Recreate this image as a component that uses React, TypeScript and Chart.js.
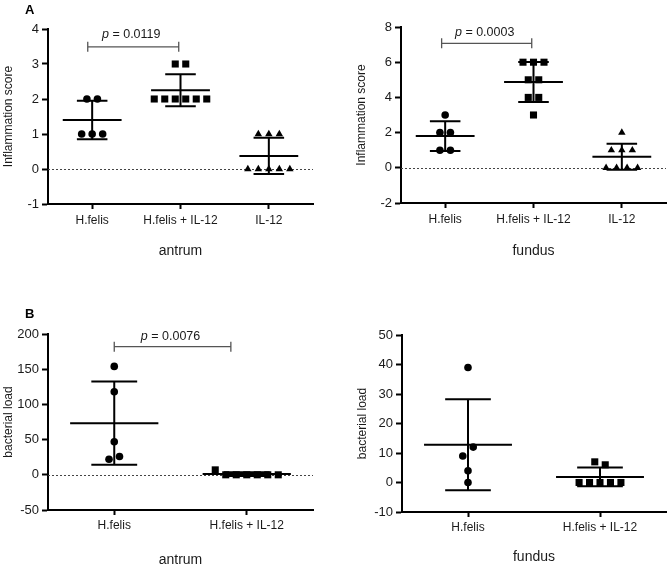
import React, { useEffect, useRef } from "react";
import { Chart, registerables } from "chart.js";
Chart.register(...registerables);

const FONT = "'Liberation Sans', Arial, Helvetica, sans-serif";
const TEXT = "#1a1a1a";

// ---------- Data ----------
const catsA = ["H.felis", "H.felis + IL-12", "IL-12"];
const catsB = ["H.felis", "H.felis + IL-12"];

// A – antrum, inflammation score
const antrumA_HF = [2, 2, 1, 1, 1];
const antrumA_HFIL = [3, 3, 2, 2, 2, 2, 2, 2];
const antrumA_IL = [1, 1, 1, 0, 0, 0, 0, 0];
const antrumA_mean = [1.4, 2.25, 0.375];
const antrumA_sd = [0.55, 0.46, 0.52];
const antrumA_ticks = [-1, 0, 1, 2, 3, 4];

// A – fundus, inflammation score
const fundusA_HF = [3, 2, 2, 1, 1];
const fundusA_HFIL = [6, 6, 6, 5, 5, 4, 4, 3];
const fundusA_IL = [2, 1, 1, 1, 0, 0, 0, 0];
const fundusA_mean = [1.8, 4.875, 0.625];
const fundusA_sd = [0.84, 1.13, 0.74];
const fundusA_ticks = [-2, 0, 2, 4, 6, 8];

// B – antrum, bacterial load
const antrumB_HF = [154, 118, 47, 22, 26];
const antrumB_HFIL = [7, 0, 0, 0, 0, 0, 0];
const antrumB_mean = [73.4, 1.0];
const antrumB_sd = [59.3, 2.6];
const antrumB_ticks = [-50, 0, 50, 100, 150, 200];

// B – fundus, bacterial load
const fundusB_HF = [39, 9, 12, 4, 0];
const fundusB_HFIL = [7, 6, 0, 0, 0, 0, 0];
const fundusB_mean = [12.8, 1.9];
const fundusB_sd = [15.4, 3.2];
const fundusB_ticks = [-10, 0, 10, 20, 30, 40, 50];

// ---------- Panel layout ----------
type Group = { values: number[]; style: "circle" | "rect" | "triangle" };
type Panel = {
  id: string;
  cats: string[];
  groups: Group[];
  mean: number[];
  sd: number[];
  ticks: number[];
  yTitle: string;
  xTitle: string;
  zeroLine: boolean;
  p?: { label: string; from: number; to: number; y: number; textY: number };
  letter?: { text: string; x: number; y: number };
  box: { x: number; y: number; w: number; h: number };
  area: { l: number; t: number; r: number; b: number };
  labelPad: number;
  titlePadBottom: number;
};

const panels: Panel[] = [
  {
    id: "a1",
    cats: catsA,
    groups: [
      { values: antrumA_HF, style: "circle" },
      { values: antrumA_HFIL, style: "rect" },
      { values: antrumA_IL, style: "triangle" },
    ],
    mean: antrumA_mean,
    sd: antrumA_sd,
    ticks: antrumA_ticks,
    yTitle: "Inflammation score",
    xTitle: "antrum",
    zeroLine: true,
    p: { label: " = 0.0119", from: -0.05, to: 0.98, y: 3.49, textY: 3.85 },
    letter: { text: "A", x: 25, y: 14 },
    box: { x: 0, y: 0, w: 335, h: 285 },
    area: { l: 48, t: 29, r: 313, b: 204 },
    labelPad: 4,
    titlePadBottom: 25,
  },
  {
    id: "a2",
    cats: catsA,
    groups: [
      { values: fundusA_HF, style: "circle" },
      { values: fundusA_HFIL, style: "rect" },
      { values: fundusA_IL, style: "triangle" },
    ],
    mean: fundusA_mean,
    sd: fundusA_sd,
    ticks: fundusA_ticks,
    yTitle: "Inflammation score",
    xTitle: "fundus",
    zeroLine: true,
    p: { label: " = 0.0003", from: -0.04, to: 0.98, y: 7.07, textY: 7.7 },
    box: { x: 335, y: 0, w: 336, h: 285 },
    area: { l: 401, t: 27, r: 666, b: 203 },
    labelPad: 4,
    titlePadBottom: 25,
  },
  {
    id: "b1",
    cats: catsB,
    groups: [
      { values: antrumB_HF, style: "circle" },
      { values: antrumB_HFIL, style: "rect" },
    ],
    mean: antrumB_mean,
    sd: antrumB_sd,
    ticks: antrumB_ticks,
    yTitle: "bacterial load",
    xTitle: "antrum",
    zeroLine: true,
    p: { label: " = 0.0076", from: 0.0, to: 0.88, y: 182, textY: 197 },
    letter: { text: "B", x: 25, y: 33 },
    box: { x: 0, y: 285, w: 335, h: 284 },
    area: { l: 48, t: 334, r: 313, b: 510 },
    labelPad: 3,
    titlePadBottom: 0,
  },
  {
    id: "b2",
    cats: catsB,
    groups: [
      { values: fundusB_HF, style: "circle" },
      { values: fundusB_HFIL, style: "rect" },
    ],
    mean: fundusB_mean,
    sd: fundusB_sd,
    ticks: fundusB_ticks,
    yTitle: "bacterial load",
    xTitle: "fundus",
    zeroLine: false,
    box: { x: 335, y: 285, w: 336, h: 284 },
    area: { l: 402, t: 335, r: 667, b: 512 },
    labelPad: 3,
    titlePadBottom: 3,
  },
];

const Y_AXIS_W = 48;
const SPREAD_PX = 10.5; // horizontal spacing of overlapping symbols
const OVERLAP_PX = 10; // vertical distance under which symbols overlap
const RADIUS = { circle: 3.8, rect: 5.0, triangle: 4.3 };

// spread overlapping points side by side (GraphPad-style scatter)
function spreadOffsets(values: number[], pxPerUnit: number, bandPx: number): number[] {
  const order = values.map((_, i) => i).sort((a, b) => values[b] - values[a]);
  const clusters: number[][] = [];
  let cur: number[] = [];
  for (const i of order) {
    if (cur.length && Math.abs(values[cur[cur.length - 1]] - values[i]) * pxPerUnit >= OVERLAP_PX) {
      clusters.push(cur);
      cur = [];
    }
    cur.push(i);
  }
  if (cur.length) clusters.push(cur);
  const offs = new Array(values.length).fill(0);
  for (const c of clusters) {
    const sorted = [...c].sort((a, b) => a - b);
    sorted.forEach((idx, k) => {
      offs[idx] = ((k - (sorted.length - 1) / 2) * SPREAD_PX) / bandPx;
    });
  }
  return offs;
}

function buildConfig(p: Panel): any {
  const n = p.cats.length;
  const yMin = p.ticks[0];
  const yMax = p.ticks[p.ticks.length - 1];
  const plotW = p.area.r - p.area.l;
  const plotH = p.area.b - p.area.t;
  const bandPx = plotW / n;
  const pxPerUnit = plotH / (yMax - yMin);

  const datasets = p.groups.map((g, gi) => {
    const offs = spreadOffsets(g.values, pxPerUnit, bandPx);
    return {
      data: g.values.map((v, i) => ({ x: gi + offs[i], y: v })),
      pointStyle: g.style,
      pointRadius: RADIUS[g.style],
      pointBackgroundColor: "#000",
      pointBorderColor: "#000",
      pointBorderWidth: 0,
      showLine: false,
      clip: false,
    };
  });

  const decor = {
    id: "decor_" + p.id,
    beforeDatasetsDraw(chart: any) {
      const ctx = chart.ctx;
      const xs = chart.scales.x;
      const ys = chart.scales.y;
      const ca = chart.chartArea;
      ctx.save();
      if (p.zeroLine) {
        ctx.strokeStyle = "#444";
        ctx.lineWidth = 1;
        ctx.setLineDash([2, 2]);
        const y0 = Math.round(ys.getPixelForValue(0)) + 0.5;
        ctx.beginPath();
        ctx.moveTo(ca.left, y0);
        ctx.lineTo(ca.right, y0);
        ctx.stroke();
        ctx.setLineDash([]);
      }
      // mean ± SD
      ctx.strokeStyle = "#000";
      ctx.lineWidth = 2;
      const band = xs.getPixelForValue(1) - xs.getPixelForValue(0);
      p.mean.forEach((m, i) => {
        const cx = xs.getPixelForValue(i);
        const ym = ys.getPixelForValue(m);
        const yu = ys.getPixelForValue(m + p.sd[i]);
        const yl = ys.getPixelForValue(m - p.sd[i]);
        const hm = band * 0.333;
        const hc = band * 0.173;
        ctx.beginPath();
        ctx.moveTo(cx - hm, ym);
        ctx.lineTo(cx + hm, ym);
        ctx.moveTo(cx - hc, yu);
        ctx.lineTo(cx + hc, yu);
        ctx.moveTo(cx - hc, yl);
        ctx.lineTo(cx + hc, yl);
        ctx.moveTo(cx, yu);
        ctx.lineTo(cx, yl);
        ctx.stroke();
      });
      // significance bracket
      if (p.p) {
        const x1 = xs.getPixelForValue(p.p.from);
        const x2 = xs.getPixelForValue(p.p.to);
        const yb = ys.getPixelForValue(p.p.y);
        ctx.strokeStyle = "#555";
        ctx.lineWidth = 1.3;
        ctx.beginPath();
        ctx.moveTo(x1, yb);
        ctx.lineTo(x2, yb);
        ctx.moveTo(x1, yb - 5);
        ctx.lineTo(x1, yb + 5);
        ctx.moveTo(x2, yb - 5);
        ctx.lineTo(x2, yb + 5);
        ctx.stroke();
        const ty = ys.getPixelForValue(p.p.textY);
        ctx.fillStyle = TEXT;
        ctx.textBaseline = "middle";
        ctx.textAlign = "left";
        ctx.font = `italic 12.5px ${FONT}`;
        const w1 = ctx.measureText("p").width;
        ctx.font = `12.5px ${FONT}`;
        const w2 = ctx.measureText(p.p.label).width;
        const sx = (x1 + x2) / 2 - 2 - (w1 + w2) / 2;
        ctx.font = `italic 12.5px ${FONT}`;
        ctx.fillText("p", sx, ty);
        ctx.font = `12.5px ${FONT}`;
        ctx.fillText(p.p.label, sx + w1, ty);
      }
      ctx.restore();
    },
    afterDraw(chart: any) {
      if (!p.letter) return;
      const ctx = chart.ctx;
      ctx.save();
      ctx.fillStyle = "#000";
      ctx.font = `bold 13px ${FONT}`;
      ctx.textAlign = "left";
      ctx.textBaseline = "alphabetic";
      ctx.fillText(p.letter.text, p.letter.x, p.letter.y);
      ctx.restore();
    },
  };

  const padLeft = p.area.l - p.box.x - Y_AXIS_W;
  const padTop = p.area.t - p.box.y;
  const padRight = p.box.x + p.box.w - p.area.r;
  const xAxisH = p.box.y + p.box.h - p.area.b;

  return {
    type: "scatter",
    data: { datasets },
    plugins: [decor],
    options: {
      responsive: false,
      animation: false,
      devicePixelRatio: 1,
      layout: { padding: { left: padLeft, top: padTop, right: padRight, bottom: 0 } },
      plugins: { legend: { display: false }, tooltip: { enabled: false } },
      scales: {
        x: {
          type: "linear",
          min: -0.5,
          max: n - 0.5,
          afterBuildTicks: (s: any) => {
            s.ticks = p.cats.map((_, i) => ({ value: i }));
          },
          afterFit: (s: any) => {
            s.height = xAxisH;
          },
          ticks: {
            callback: (v: any) => p.cats[Math.round(Number(v))] ?? "",
            font: { family: FONT, size: 12 },
            color: TEXT,
            padding: p.labelPad,
            maxRotation: 0,
            autoSkip: false,
          },
          grid: {
            display: true,
            drawOnChartArea: false,
            drawTicks: true,
            tickLength: 5,
            tickWidth: 2,
            tickColor: "#000",
          },
          border: { display: true, color: "#000", width: 2 },
          title: {
            display: true,
            text: p.xTitle,
            color: TEXT,
            font: { family: FONT, size: 14 },
            padding: { top: 0, bottom: p.titlePadBottom },
          },
        },
        y: {
          type: "linear",
          min: yMin,
          max: yMax,
          afterBuildTicks: (s: any) => {
            s.ticks = p.ticks.map((v) => ({ value: v }));
          },
          afterFit: (s: any) => {
            s.width = Y_AXIS_W;
          },
          ticks: {
            font: { family: FONT, size: 13 },
            color: TEXT,
            padding: 3,
          },
          grid: {
            display: true,
            drawOnChartArea: false,
            drawTicks: true,
            tickLength: 6,
            tickWidth: 2,
            tickColor: "#000",
          },
          border: { display: true, color: "#000", width: 2 },
          title: {
            display: true,
            text: p.yTitle,
            color: TEXT,
            font: { family: FONT, size: 12 },
            padding: { top: 1, bottom: 0 },
          },
        },
      },
    },
  };
}

function PanelChart({ panel }: { panel: Panel }) {
  const ref = useRef<HTMLCanvasElement>(null);
  useEffect(() => {
    const chart = new Chart(ref.current as HTMLCanvasElement, buildConfig(panel));
    return () => chart.destroy();
  }, [panel]);
  return (
    <canvas
      ref={ref}
      width={panel.box.w}
      height={panel.box.h}
      style={{
        position: "absolute",
        left: panel.box.x,
        top: panel.box.y,
        width: panel.box.w,
        height: panel.box.h,
      }}
    />
  );
}

export default function App() {
  return (
    <div
      style={{
        position: "absolute",
        left: 0,
        top: 0,
        width: 671,
        height: 569,
        background: "#fff",
        overflow: "hidden",
      }}
    >
      {panels.map((p) => (
        <PanelChart key={p.id} panel={p} />
      ))}
    </div>
  );
}
